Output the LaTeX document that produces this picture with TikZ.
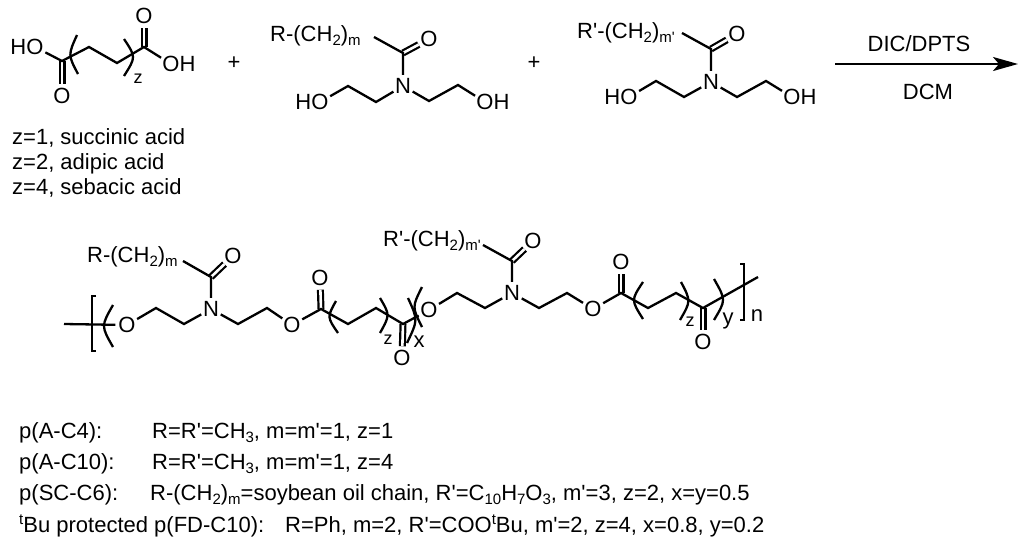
\documentclass[tikz,border=0pt]{standalone}
\usepackage{fontspec}
\setmainfont{Liberation Sans}[Ligatures=TeXOff]
\usetikzlibrary{arrows.meta,positioning}
\newcommand{\lowtext}[1]{\raisebox{-4.5pt}{\fontsize{15}{15}\selectfont #1}}
\newcommand{\hightext}[1]{\raisebox{8pt}{\fontsize{15}{15}\selectfont #1}}
\tikzset{
    bond/.style={line width=2.3pt},
    dbond/.style={line width=2.2pt, double, double distance=2.6pt},
    atom/.style={circle, inner sep=0pt, font=\fontsize{22}{26}\selectfont},
    hatom/.style={inner sep=0pt, font=\fontsize{22}{26}\selectfont},
    lab/.style={inner sep=0pt, anchor=base west, font=\fontsize{22}{26}\selectfont},
    small/.style={inner sep=0pt, font=\fontsize{18}{20}\selectfont}
}
\begin{document}
\begin{tikzpicture}[x=1pt, y=-1pt]
    \useasboundingbox (0,0) rectangle (1024,546);

    % diacid
    \node[atom] (ao1) at (35,47) {O};
    \node[hatom, left=-3.2pt of ao1] (ah1) {H};
    \node[atom] (ao2) at (62,96) {O};
    \node[atom] (ao3) at (144,16) {O};
    \node[atom] (ao4) at (171,64) {O};
    \node[hatom, right=-3.2pt of ao4] (ah4) {H};
    \foreach \name/\px/\py in {a1/62/61, a2/89/47, a3/117/63, a4/144/47}
        \coordinate (\name) at (\px,\py);
    \draw[dbond] (a1) -- (ao2);
    \draw[dbond] (a4) -- (ao3);
    \draw[bond] (ao1) -- (a1) -- (a2) -- (a3) -- (a4) -- (ao4);
    \node[small] (az) at (138,79) {z};
    \node[lab] (la1) at (12,144) {z=1, succinic acid};
    \node[lab] (la2) at (12,169) {z=2, adipic acid};
    \node[lab] (la3) at (12,194) {z=4, sebacic acid};
    \node[lab, anchor=center] (plus1) at (234,63) {+};

    % first diol
    \node[lab] (rb) at (270,41) {R-(CH\lowtext{2})\lowtext{m}};
    \node[atom] (bo) at (429,39) {O};
    \node[atom] (bn) at (403,86) {N};
    \node[atom] (bo1) at (320,102) {O};
    \node[hatom, left=-3.2pt of bo1] (bh1) {H};
    \node[atom] (bo2) at (485,102) {O};
    \node[hatom, right=-3.2pt of bo2] (bh2) {H};
    \foreach \name/\px/\py in {b0/374/37, b1/403/53, b2/376/102, b3/348/86, b4/429/101, b5/458/85}
        \coordinate (\name) at (\px,\py);
    \draw[dbond] (b1) -- (bo);
    \draw[bond] (b0) -- (b1) -- (bn);
    \draw[bond] (bo1) -- (b3) -- (b2) -- (bn) -- (b4) -- (b5) -- (bo2);
    \node[lab, anchor=center] (plus2) at (534,63) {+};

    % second diol
    \node[lab] (rc) at (577,38) {R'-(CH\lowtext{2})\lowtext{m'}};
    \node[atom] (co) at (737,34) {O};
    \node[atom] (cn) at (711,82) {N};
    \node[atom] (co1) at (629,97) {O};
    \node[hatom, left=-3.2pt of co1] (ch1) {H};
    \node[atom] (co2) at (792,97) {O};
    \node[hatom, right=-3.2pt of co2] (ch2) {H};
    \foreach \name/\px/\py in {c0/682/33, c1/711/49, c2/684/97, c3/656/81, c4/737/97, c5/766/81}
        \coordinate (\name) at (\px,\py);
    \draw[dbond] (c1) -- (co);
    \draw[bond] (c0) -- (c1) -- (cn);
    \draw[bond] (co1) -- (c3) -- (c2) -- (cn) -- (c4) -- (c5) -- (co2);

    % reaction arrow
    \coordinate (ar1) at (835,64);
    \coordinate (ar2) at (1018,64);
    \draw[bond, -{Stealth[length=25pt, width=14pt, inset=6pt]}] (ar1) -- (ar2);
    \node[lab, anchor=center] (reag1) at (919,44) {DIC/DPTS};
    \node[lab, anchor=center] (reag2) at (928,92) {DCM};

    % polymer
    \node[lab] (rd) at (87,262) {R-(CH\lowtext{2})\lowtext{m}};
    \node[lab] (re) at (383,246) {R'-(CH\lowtext{2})\lowtext{m'}};
    \node[atom] (do1) at (127,325) {O};
    \node[atom] (dn1) at (211,309) {N};
    \node[atom] (do2) at (233,256) {O};
    \node[atom] (do3) at (292,325) {O};
    \node[atom] (do4) at (320,278) {O};
    \node[atom] (do5) at (402,358) {O};
    \node[atom] (do6) at (429,310) {O};
    \node[atom] (dn2) at (512,293) {N};
    \node[atom] (do7) at (533,241) {O};
    \node[atom] (do8) at (593,309) {O};
    \node[atom] (do9) at (621,262) {O};
    \node[atom] (do10) at (703,342) {O};
    \foreach \name/\px/\py in {d0/64/324, d1/156/308, d2/184/324, d3/183/261, d4/211/277,
        d5/238/324, d6/267/308, d7/321/309, d8/348/324, d9/376/308, d10/403/324,
        e1/457/293, e2/485/308, e3/483/245, e4/512/261, e5/539/308, e6/567/293,
        e7/621/293, e8/648/308, e9/676/293, e10/703/308, e11/758/277}
        \coordinate (\name) at (\px,\py);
    \draw[dbond] (d4) -- (do2);
    \draw[dbond] (d7) -- (do4);
    \draw[dbond] (d10) -- (do5);
    \draw[dbond] (e4) -- (do7);
    \draw[dbond] (e7) -- (do9);
    \draw[dbond] (e10) -- (do10);
    \draw[bond] (d0) -- (do1) -- (d1) -- (d2) -- (dn1) -- (d5) -- (d6) -- (do3) -- (d7) -- (d8) -- (d9) -- (d10) -- (do6);
    \draw[bond] (do6) -- (e1) -- (e2) -- (dn2) -- (e5) -- (e6) -- (do8) -- (e7) -- (e8) -- (e9) -- (e10) -- (e11);
    \draw[bond] (d3) -- (d4) -- (dn1);
    \draw[bond] (e3) -- (e4) -- (dn2);
    \node[small] (dz1) at (388,340) {z};
    \node[lab, anchor=center] (dx) at (419,342) {x};
    \node[small] (dz2) at (690,322) {z};
    \node[lab, anchor=center] (dy) at (728,321) {y};
    \node[lab, anchor=center] (dnn) at (757,316) {n};

    % round and square brackets
    \foreach \ax/\ay/\bx/\by/\cx/\cy in {77/35/68/55/78/74, 124/39/136/57/124/76,
        113/305/101/326/113/347, 336/301/327/317/338/333, 380/298/390/315/380/333,
        408/298/418/320/407/343, 422/287/412/307/422/327, 643/282/631/300/643/319,
        681/282/691/301/680/320, 714/279/726/300/714/320}
        \draw[bond] (\ax,\ay) .. controls (\bx,\by) .. (\cx,\cy);
    \draw[bond] (96,296) -- (92,296) -- (92,351) -- (96,351);
    \draw[bond] (740,264) -- (744,264) -- (744,320) -- (740,320);

    % table of polymers
    \node[lab] (t1) at (19,438) {p(A-C4):};
    \node[lab] (v1) at (152,438) {R=R'=CH\lowtext{3}, m=m'=1, z=1};
    \node[lab] (t2) at (19,469) {p(A-C10):};
    \node[lab] (v2) at (152,469) {R=R'=CH\lowtext{3}, m=m'=1, z=4};
    \node[lab] (t3) at (19,500) {p(SC-C6):};
    \node[lab] (v3) at (150,500) {R-(CH\lowtext{2})\lowtext{m}=soybean oil chain, R'=C\lowtext{10}H\lowtext{7}O\lowtext{3}, m'=3, z=2, x=y=0.5};
    \node[lab] (t4) at (19,532) {\hightext{t}Bu protected p(FD-C10):};
    \node[lab] (v4) at (285,532) {R=Ph, m=2, R'=COO\hightext{t}Bu, m'=2, z=4, x=0.8, y=0.2};
\end{tikzpicture}
\end{document}
